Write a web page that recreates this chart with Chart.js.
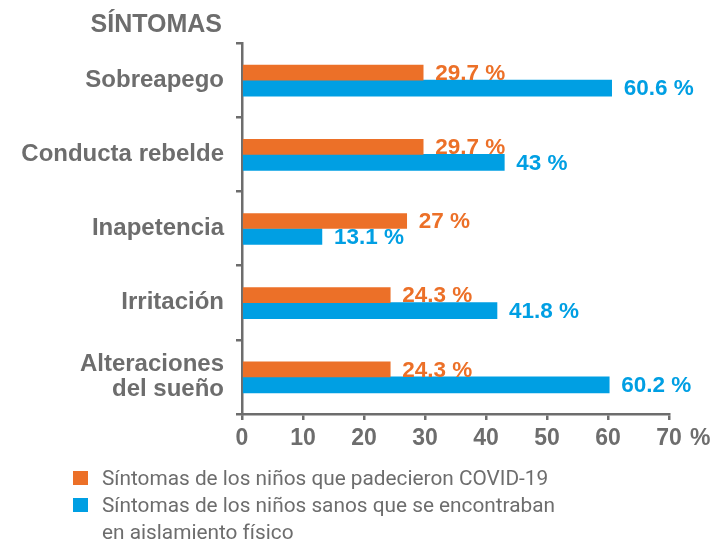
<!DOCTYPE html>
<html><head><meta charset="utf-8">
<script src="https://cdn.jsdelivr.net/npm/chart.js@4"></script>
<style>
html,body{margin:0;padding:0;background:#fff;}
#wrap{position:relative;width:717px;height:542px;}
canvas{position:absolute;left:0;top:0;}
#legend{position:absolute;left:73px;top:465px;font-family:Roboto,"Liberation Sans",sans-serif;font-size:20.8px;color:#6d6d6d;line-height:27px;}
.row{position:relative;padding-left:29px;white-space:nowrap;}
.sw{position:absolute;left:0;top:6px;width:15px;height:14px;}
</style></head>
<body><div id="wrap"><canvas id="c" width="717" height="542"></canvas>
<div id="legend"></div></div>
<script>
const categories = [["Sobreapego"],["Conducta rebelde"],["Inapetencia"],["Irritación"],["Alteraciones","del sueño"]];
const covidValues = [29.7, 29.7, 27, 24.3, 24.3];
const aisladosValues = [60.6, 43, 13.1, 41.8, 60.2];
const seriesNames = ["Síntomas de los niños que padecieron COVID-19", "Síntomas de los niños sanos que se encontraban en aislamiento físico"];
const axisTitle = "SÍNTOMAS";
const tickUnit = "%";
const labelTexts = [
  ["29.7 %","29.7 %","27 %","24.3 %","24.3 %"],
  ["60.6 %","43 %","13.1 %","41.8 %","60.2 %"]
];
const ORANGE = "#ec7028", BLUE = "#009fe3", GRAY = "#6d6d6d";
const FONT = '"Liberation Sans", Arial, sans-serif';

const lg = document.getElementById('legend');
lg.innerHTML = '<div class="row"><span class="sw" style="background:'+ORANGE+'"></span>'+seriesNames[0]+'</div>'+
 '<div class="row"><span class="sw" style="background:'+BLUE+'"></span>Síntomas de los niños sanos que se encontraban<br>en aislamiento físico</div>';

const extras = {
  id:'extras',
  afterDatasetsDraw(chart){
    const ctx = chart.ctx;
    ctx.save();
    ctx.font = 'bold 22.5px '+FONT;
    ctx.textBaseline = 'middle';
    ctx.textAlign = 'left';
    chart.data.datasets.forEach((ds,i)=>{
      const meta = chart.getDatasetMeta(i);
      meta.data.forEach((bar,j)=>{
        ctx.fillStyle = ds.backgroundColor;
        ctx.fillText(labelTexts[i][j], bar.x + 12, bar.y + 1);
      });
    });
    // title
    ctx.fillStyle = GRAY;
    ctx.textAlign = 'right';
    ctx.textBaseline = 'alphabetic';
    ctx.font = 'bold 25px '+FONT;
    ctx.fillText(axisTitle, 222, 32);
    // % after 70
    const xs = chart.scales.x;
    ctx.font = 'bold 23px '+FONT;
    ctx.textAlign = 'left';
    ctx.fillText(tickUnit, xs.getPixelForValue(70) + 21, 445);
    ctx.restore();
  }
};

new Chart(document.getElementById('c'), {
  type:'bar',
  data:{
    labels: categories,
    datasets:[
      {label:seriesNames[0], data:covidValues, backgroundColor:ORANGE, barThickness:15, categoryPercentage:0.66},
      {label:seriesNames[1], data:aisladosValues, backgroundColor:BLUE, barThickness:16, categoryPercentage:0.66}
    ]
  },
  options:{
    indexAxis:'y',
    responsive:false,
    animation:false,
    layout:{padding:{left:0,right:48,top:43,bottom:88}},
    plugins:{legend:{display:false},tooltip:{enabled:false}},
    scales:{
      x:{
        min:0,max:70,
        ticks:{stepSize:10,color:GRAY,font:{family:FONT,size:23,weight:'bold',lineHeight:1.0},padding:7},
        grid:{drawOnChartArea:false,drawTicks:true,tickLength:6,color:GRAY,lineWidth:2.5},
        border:{display:true,color:GRAY,width:2.5},
        afterFit(s){s.height=40;}
      },
      y:{
        ticks:{color:GRAY,font:{family:FONT,size:24,weight:'bold',lineHeight:1.02},padding:12},
        grid:{drawOnChartArea:false,drawTicks:true,tickLength:6,color:GRAY,lineWidth:2.5,offset:true},
        border:{display:true,color:GRAY,width:2.5},
        afterFit(s){s.width=242;}
      }
    }
  },
  plugins:[extras]
});
</script></body></html>
